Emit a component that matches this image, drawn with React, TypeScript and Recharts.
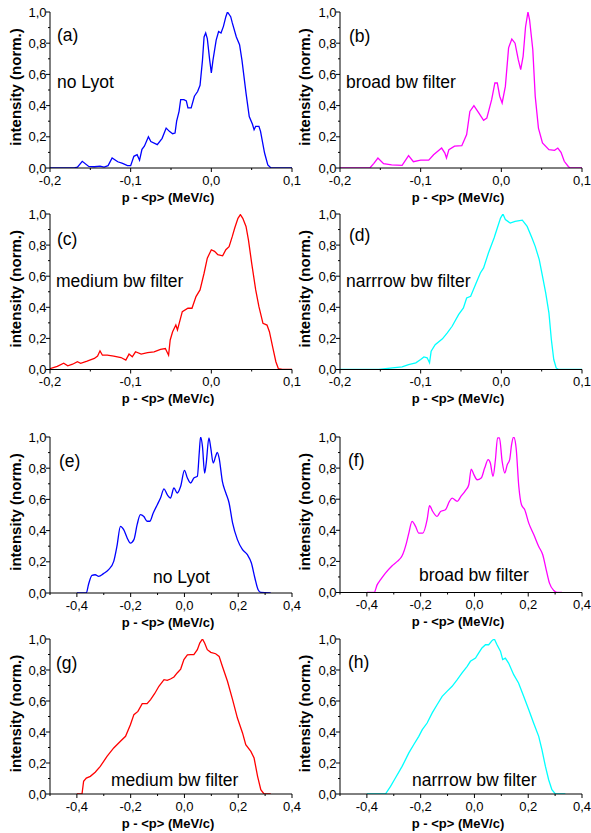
import React from 'react';
import { LineChart, Line, XAxis, YAxis } from 'recharts';

// [p - <p> (MeV/c), normalized intensity]
const curveA: [number, number][] = [
  [-0.2, 0], [-0.17, 0], [-0.166, 0.005], [-0.16, 0.043], [-0.152, 0.01], [-0.145, 0.008], [-0.138, 0.012],
  [-0.133, 0.006], [-0.128, 0.015], [-0.123, 0.064], [-0.116, 0.04], [-0.11, 0.03], [-0.104, 0.015], [-0.1, 0.015],
  [-0.096, 0.075], [-0.092, 0.085], [-0.089, 0.05], [-0.086, 0.12], [-0.083, 0.14], [-0.078, 0.2], [-0.075, 0.17],
  [-0.067, 0.15], [-0.061, 0.19], [-0.056, 0.256], [-0.052, 0.235], [-0.048, 0.22], [-0.045, 0.224], [-0.043, 0.3],
  [-0.04, 0.363], [-0.038, 0.438], [-0.034, 0.438], [-0.031, 0.43], [-0.029, 0.385], [-0.025, 0.385], [-0.021, 0.46],
  [-0.017, 0.49], [-0.014, 0.53], [-0.011, 0.69], [-0.009, 0.84], [-0.007, 0.865], [-0.005, 0.83], [-0.002, 0.69],
  [0, 0.61], [0.002, 0.69], [0.006, 0.82], [0.009, 0.875], [0.012, 0.865], [0.015, 0.908], [0.018, 0.97], [0.02, 1.0],
  [0.024, 0.97], [0.026, 0.93], [0.031, 0.84], [0.035, 0.79], [0.038, 0.69], [0.043, 0.48], [0.047, 0.33], [0.051, 0.28],
  [0.053, 0.245], [0.055, 0.267], [0.059, 0.267], [0.061, 0.235], [0.066, 0.096], [0.07, 0.02], [0.074, 0], [0.1, 0],
];

const curveB: [number, number][] = [
  [-0.2, 0], [-0.163, 0], [-0.158, 0.03], [-0.153, 0.064], [-0.146, 0.028], [-0.136, 0.02], [-0.123, 0.017],
  [-0.115, 0.08], [-0.109, 0.04], [-0.1, 0.05], [-0.09, 0.05], [-0.084, 0.085], [-0.074, 0.128], [-0.07, 0.096],
  [-0.068, 0.064], [-0.065, 0.118], [-0.058, 0.14], [-0.049, 0.143], [-0.043, 0.214], [-0.039, 0.363], [-0.034, 0.4],
  [-0.028, 0.353], [-0.022, 0.306], [-0.018, 0.32], [-0.012, 0.438], [-0.008, 0.545], [-0.005, 0.545], [-0.002, 0.46],
  [0.001, 0.417], [0.005, 0.523], [0.009, 0.77], [0.013, 0.827], [0.017, 0.8], [0.021, 0.694], [0.024, 0.63],
  [0.027, 0.716], [0.03, 0.904], [0.033, 1.0], [0.035, 0.95], [0.039, 0.76], [0.042, 0.46], [0.046, 0.256],
  [0.051, 0.16], [0.059, 0.118], [0.066, 0.113], [0.07, 0.128], [0.074, 0.1], [0.078, 0.043], [0.083, 0.01],
  [0.085, 0], [0.1, 0],
];

const curveC: [number, number][] = [
  [-0.2, 0.006], [-0.191, 0.02], [-0.183, 0.04], [-0.178, 0.024], [-0.172, 0.034], [-0.166, 0.05], [-0.162, 0.04],
  [-0.154, 0.054], [-0.145, 0.071], [-0.141, 0.086], [-0.138, 0.12], [-0.135, 0.092], [-0.129, 0.092], [-0.121, 0.086],
  [-0.112, 0.077], [-0.106, 0.06], [-0.102, 0.099], [-0.098, 0.082], [-0.094, 0.114], [-0.087, 0.099], [-0.079, 0.108],
  [-0.071, 0.114], [-0.063, 0.129], [-0.057, 0.135], [-0.053, 0.092], [-0.051, 0.19], [-0.048, 0.243], [-0.044, 0.286],
  [-0.042, 0.254], [-0.036, 0.372], [-0.029, 0.394], [-0.024, 0.394], [-0.019, 0.469], [-0.014, 0.512], [-0.009, 0.619],
  [-0.005, 0.716], [0, 0.77], [0.004, 0.76], [0.008, 0.738], [0.014, 0.731], [0.018, 0.77], [0.022, 0.79],
  [0.026, 0.856], [0.029, 0.91], [0.033, 0.972], [0.036, 0.996], [0.039, 0.972], [0.043, 0.92], [0.046, 0.834],
  [0.05, 0.684], [0.055, 0.512], [0.059, 0.404], [0.064, 0.297], [0.069, 0.286], [0.072, 0.243], [0.076, 0.146],
  [0.08, 0.05], [0.083, 0.006], [0.088, 0], [0.1, 0],
];

const curveD: [number, number][] = [
  [-0.2, 0], [-0.152, 0], [-0.135, 0.01], [-0.123, 0.017], [-0.115, 0.032], [-0.106, 0.043], [-0.1, 0.064],
  [-0.096, 0.081], [-0.092, 0.075], [-0.089, 0.043], [-0.087, 0.118], [-0.082, 0.16], [-0.073, 0.197], [-0.067, 0.236],
  [-0.061, 0.278], [-0.053, 0.353], [-0.047, 0.396], [-0.043, 0.46], [-0.038, 0.471], [-0.032, 0.546], [-0.026, 0.621],
  [-0.022, 0.653], [-0.016, 0.749], [-0.009, 0.846], [-0.005, 0.91], [-0.001, 0.974], [0.002, 1.0], [0.005, 0.964],
  [0.011, 0.942], [0.017, 0.953], [0.026, 0.96], [0.032, 0.92], [0.038, 0.846], [0.042, 0.792], [0.047, 0.707],
  [0.051, 0.6], [0.055, 0.493], [0.059, 0.364], [0.062, 0.193], [0.065, 0.064], [0.068, 0.01], [0.071, 0], [0.1, 0],
];

const curveE: [number, number][] = [
  [-0.4, 0], [-0.365, 0], [-0.357, 0.053], [-0.344, 0.113], [-0.332, 0.117], [-0.319, 0.107], [-0.301, 0.124],
  [-0.282, 0.15], [-0.263, 0.203], [-0.251, 0.3], [-0.238, 0.427], [-0.226, 0.406], [-0.213, 0.353], [-0.201, 0.32],
  [-0.188, 0.342], [-0.176, 0.438], [-0.164, 0.502], [-0.151, 0.49], [-0.139, 0.46], [-0.129, 0.46], [-0.116, 0.513],
  [-0.101, 0.566], [-0.089, 0.609], [-0.076, 0.667], [-0.064, 0.63], [-0.052, 0.609], [-0.039, 0.673], [-0.027, 0.641],
  [-0.014, 0.684], [0, 0.786], [0.011, 0.737], [0.023, 0.705], [0.035, 0.737], [0.048, 0.748], [0.055, 0.897],
  [0.06, 1.0], [0.067, 0.94], [0.075, 0.769], [0.081, 0.833], [0.091, 0.994], [0.098, 0.929], [0.107, 0.833],
  [0.116, 0.876], [0.122, 0.902], [0.129, 0.865], [0.141, 0.716], [0.154, 0.641], [0.166, 0.577], [0.179, 0.449],
  [0.197, 0.342], [0.216, 0.278], [0.234, 0.246], [0.249, 0.192], [0.262, 0.096], [0.274, 0.021], [0.284, 0.004],
  [0.321, 0],
];

const curveF: [number, number][] = [
  [-0.4, 0], [-0.373, 0], [-0.362, 0.049], [-0.349, 0.082], [-0.331, 0.124], [-0.306, 0.172], [-0.287, 0.2],
  [-0.269, 0.236], [-0.253, 0.318], [-0.244, 0.382], [-0.232, 0.457], [-0.219, 0.425], [-0.207, 0.382], [-0.192, 0.382],
  [-0.176, 0.468], [-0.167, 0.558], [-0.155, 0.521], [-0.139, 0.489], [-0.126, 0.521], [-0.108, 0.532], [-0.093, 0.586],
  [-0.083, 0.607], [-0.064, 0.586], [-0.052, 0.614], [-0.033, 0.657], [-0.021, 0.693], [-0.012, 0.794], [-0.002, 0.758],
  [0.01, 0.725], [0.025, 0.736], [0.038, 0.8], [0.051, 0.854], [0.059, 0.833], [0.069, 0.747], [0.078, 0.854],
  [0.086, 0.994], [0.093, 0.994], [0.103, 0.843], [0.113, 0.768], [0.122, 0.822], [0.131, 0.854], [0.138, 0.95],
  [0.146, 1.0], [0.155, 0.929], [0.165, 0.682], [0.175, 0.564], [0.187, 0.532], [0.202, 0.446], [0.221, 0.371],
  [0.239, 0.296], [0.254, 0.243], [0.267, 0.146], [0.279, 0.06], [0.295, 0.013], [0.307, 0], [0.326, 0],
];

const curveG: [number, number][] = [
  [-0.4, 0], [-0.381, 0], [-0.375, 0.082], [-0.365, 0.103], [-0.35, 0.114], [-0.332, 0.14], [-0.313, 0.178],
  [-0.288, 0.243], [-0.263, 0.297], [-0.238, 0.34], [-0.219, 0.372], [-0.201, 0.447], [-0.188, 0.512], [-0.173, 0.533],
  [-0.157, 0.583], [-0.139, 0.583], [-0.126, 0.609], [-0.111, 0.647], [-0.095, 0.695], [-0.076, 0.738], [-0.064, 0.733],
  [-0.052, 0.742], [-0.039, 0.755], [-0.027, 0.781], [-0.014, 0.806], [-0.002, 0.867], [0.011, 0.897], [0.023, 0.899],
  [0.035, 0.899], [0.048, 0.931], [0.057, 0.974], [0.067, 1.0], [0.075, 0.974], [0.085, 0.931], [0.098, 0.914],
  [0.116, 0.905], [0.129, 0.888], [0.141, 0.824], [0.16, 0.727], [0.179, 0.609], [0.197, 0.49], [0.216, 0.394],
  [0.228, 0.318], [0.247, 0.275], [0.259, 0.232], [0.272, 0.114], [0.284, 0.028], [0.296, 0], [0.321, 0],
];

const curveH: [number, number][] = [
  [-0.4, 0], [-0.331, 0], [-0.312, 0.049], [-0.294, 0.103], [-0.269, 0.178], [-0.244, 0.265], [-0.226, 0.318],
  [-0.207, 0.372], [-0.194, 0.415], [-0.176, 0.458], [-0.157, 0.523], [-0.139, 0.576], [-0.12, 0.63], [-0.102, 0.662],
  [-0.083, 0.695], [-0.064, 0.738], [-0.046, 0.781], [-0.027, 0.824], [-0.015, 0.856], [0.004, 0.877], [0.016, 0.91],
  [0.028, 0.942], [0.041, 0.963], [0.053, 0.963], [0.066, 0.991], [0.074, 1.0], [0.084, 0.963], [0.097, 0.92],
  [0.105, 0.867], [0.115, 0.877], [0.127, 0.845], [0.146, 0.77], [0.164, 0.716], [0.183, 0.63], [0.202, 0.544],
  [0.22, 0.458], [0.239, 0.372], [0.251, 0.286], [0.264, 0.178], [0.276, 0.092], [0.288, 0.028], [0.301, 0], [0.338, 0],
];

const yTicks = [0, 0.1, 0.2, 0.3, 0.4, 0.5, 0.6, 0.7, 0.8, 0.9, 1.0];
const xTicksNarrow = [-0.2, -0.15, -0.1, -0.05, 0, 0.05, 0.1];
const xTicksWide = [-0.5, -0.4, -0.3, -0.2, -0.1, 0, 0.1, 0.2, 0.3, 0.4];
const tags = ['(a)', '(b)', '(c)', '(d)', '(e)', '(f)', '(g)', '(h)'];
const notes = ['no Lyot', 'broad bw filter', 'medium bw filter', 'narrrow bw filter',
  'no Lyot', 'broad bw filter', 'medium bw filter', 'narrrow bw filter'];

const FONT = '"Liberation Sans", Arial, Helvetica, sans-serif';
const PW = 242; // plot width

const fmt = (v: number) => v.toFixed(1).replace('.', ',');
const isMajor = (v: number, step: number) => Math.abs(v / step - Math.round(v / step)) < 1e-6;

const makeYTick = (props: any) => {
  const { x, y, payload } = props;
  const major = isMajor(payload.value, 0.2);
  return (
    <g>
      <line x1={x} x2={x - (major ? 4 : 2)} y1={y} y2={y} stroke="#000" strokeWidth={1} />
      {major && (
        <text x={x - 3.5} y={y + 4.6} textAnchor="end" fontSize={13} fontFamily={FONT} fill="#000">
          {fmt(payload.value)}
        </text>
      )}
    </g>
  );
};

const makeXTick = (step: number) => (props: any) => {
  const { x, y, payload } = props;
  const major = isMajor(payload.value, step);
  return (
    <g>
      <line x1={x} x2={x} y1={y} y2={y + (major ? 4 : 2)} stroke="#000" strokeWidth={1} />
      {major && (
        <text x={x} y={y + 16.5} textAnchor="middle" fontSize={13} fontFamily={FONT} fill="#000">
          {fmt(payload.value)}
        </text>
      )}
    </g>
  );
};

type PanelCfg = {
  curve: [number, number][];
  color: string;
  left: number;
  top: number;
  h: number;
  wide: boolean;
  smooth: boolean;
  tagAt: [number, number];
  noteAt: [number, number];
};

const panels: PanelCfg[] = [
  { curve: curveA, color: '#0000ff', left: 50, top: 12, h: 156, wide: false, smooth: false, tagAt: [57, 41], noteAt: [57, 88] },
  { curve: curveB, color: '#ff00ff', left: 340, top: 12, h: 156, wide: false, smooth: false, tagAt: [349, 42], noteAt: [346, 88] },
  { curve: curveC, color: '#ff0000', left: 50, top: 214, h: 155.5, wide: false, smooth: false, tagAt: [57, 245], noteAt: [56, 287] },
  { curve: curveD, color: '#00ffff', left: 340, top: 214, h: 155.5, wide: false, smooth: false, tagAt: [349, 241], noteAt: [346, 287] },
  { curve: curveE, color: '#0000ff', left: 50, top: 437, h: 156, wide: true, smooth: true, tagAt: [59, 467], noteAt: [153, 583] },
  { curve: curveF, color: '#ff00ff', left: 340, top: 437, h: 155.5, wide: true, smooth: true, tagAt: [348, 466], noteAt: [419, 581] },
  { curve: curveG, color: '#ff0000', left: 50, top: 639, h: 155, wide: true, smooth: false, tagAt: [56, 669], noteAt: [111, 786] },
  { curve: curveH, color: '#00ffff', left: 340, top: 639, h: 155, wide: true, smooth: false, tagAt: [348, 668], noteAt: [412, 786] },
];

const Panel: React.FC<{ cfg: PanelCfg }> = ({ cfg }) => {
  const data = cfg.curve.map(([p, v]) => ({ p, v }));
  const xTicks = cfg.wide ? xTicksWide : xTicksNarrow;
  const domain: [number, number] = cfg.wide ? [-0.5, 0.4] : [-0.2, 0.1];
  const mTop = 10;
  const width = 50 + PW + 10;
  const height = mTop + cfg.h + 20 + 10;
  return (
    <div style={{ position: 'absolute', left: cfg.left - 50, top: cfg.top - mTop }}>
      <LineChart width={width} height={height} data={data} margin={{ top: mTop, right: 10, left: 0, bottom: 10 }}>
        <XAxis
          dataKey="p"
          type="number"
          domain={domain}
          ticks={xTicks}
          interval={0}
          allowDataOverflow
          height={20}
          tickSize={0}
          tickMargin={0}
          tickLine={false}
          axisLine={{ stroke: '#000', strokeWidth: 1 }}
          tick={makeXTick(cfg.wide ? 0.2 : 0.1)}
        />
        <YAxis
          type="number"
          domain={[0, 1]}
          ticks={yTicks}
          interval={0}
          allowDataOverflow
          width={50}
          tickSize={0}
          tickMargin={0}
          tickLine={false}
          axisLine={{ stroke: '#000', strokeWidth: 1 }}
          tick={makeYTick}
        />
        <Line
          dataKey="v"
          type={cfg.smooth ? 'monotone' : 'linear'}
          stroke={cfg.color}
          strokeWidth={1.3}
          dot={false}
          isAnimationActive={false}
        />
      </LineChart>
    </div>
  );
};

const App: React.FC = () => (
  <div style={{ position: 'absolute', left: 0, top: 0, width: 591, height: 833, background: '#fff' }}>
    {panels.map((cfg, i) => (
      <Panel key={tags[i]} cfg={cfg} />
    ))}
    <svg width={591} height={833} style={{ position: 'absolute', left: 0, top: 0, pointerEvents: 'none' }}>
      {panels.map((cfg, i) => {
        const cx = cfg.left + PW / 2 - 3;
        const cy = cfg.top + cfg.h / 2 - 3;
        const yx = cfg.left < 100 ? 15 : 304.5;
        return (
          <g key={tags[i]} fontFamily={FONT} fill="#000">
            <text x={cfg.tagAt[0]} y={cfg.tagAt[1]} fontSize={17.5}>{tags[i]}</text>
            <text x={cfg.noteAt[0]} y={cfg.noteAt[1]} fontSize={17.5}>{notes[i]}</text>
            <text x={cx} y={cfg.top + cfg.h + 29} fontSize={13} fontWeight="bold" textAnchor="middle" dominantBaseline="central">
              p - &lt;p&gt; (MeV/c)
            </text>
            <text
              x={yx}
              y={cy}
              fontSize={15}
              fontWeight="bold"
              textAnchor="middle"
              dominantBaseline="central"
              transform={`rotate(-90 ${yx} ${cy})`}
            >
              intensity (norm.)
            </text>
          </g>
        );
      })}
    </svg>
  </div>
);

export default App;
